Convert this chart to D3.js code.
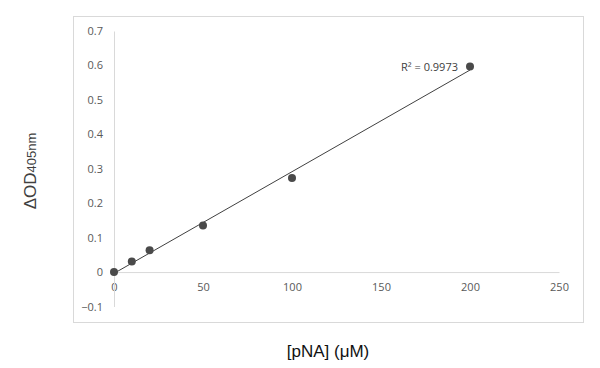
<!DOCTYPE html>
<html>
<head>
<meta charset="utf-8">
<script src="https://cdn.jsdelivr.net/npm/d3@7"></script>
<style>
  body { margin: 0; background: #fff; }
  text { font-family: "Open Sans", "DejaVu Sans", sans-serif; }
</style>
</head>
<body>
<svg id="chart" width="600" height="368"></svg>
<script>
// pNA standard curve
let conc = [0, 10, 20, 50, 100, 200]
let od = [0, 0.031, 0.063, 0.135, 0.273, 0.597]
let xTicks = [0, 50, 100, 150, 200, 250]
let yTicks = [-0.1, 0, 0.1, 0.2, 0.3, 0.4, 0.5, 0.6, 0.7]
let r2Label = 'R² = 0.9973'

let svg = d3.select('#chart')

// chart area frame
svg.append('rect')
  .attr('x', 73.5).attr('y', 16.5)
  .attr('width', 510).attr('height', 306)
  .style('fill', 'none').style('stroke', '#d9d9d9')

let xScale = d3.scaleLinear().domain([0, 250]).range([114, 559])
let yScale = d3.scaleLinear().domain([-0.1, 0.7]).range([306.5, 31])

// x axis sits on y = 0
let xAxis = svg.append('g')
  .attr('transform', `translate(0, ${yScale(0)})`)
  .call(d3.axisBottom(xScale).tickValues(xTicks).tickSize(0).tickPadding(11))
xAxis.select('.domain').style('stroke', '#d9d9d9')
xAxis.selectAll('text').style('fill', '#595959').style('font-size', '11px')

let yAxis = svg.append('g')
  .attr('transform', `translate(${xScale(0)}, 0)`)
  .call(d3.axisLeft(yScale).tickValues(yTicks).tickSize(0).tickPadding(11)
    .tickFormat(d => d3.format('.1~f')(d)))
yAxis.select('.domain').style('stroke', '#d9d9d9')
yAxis.selectAll('text').style('fill', '#595959').style('font-size', '11px')

// linear trend line (least squares)
let mx = d3.mean(conc), my = d3.mean(od)
let sxy = d3.sum(conc, (d, i) => (d - mx) * (od[i] - my))
let sxx = d3.sum(conc, d => (d - mx) * (d - mx))
let slope = sxy / sxx, icpt = my - slope * mx
let xMax = d3.max(conc)

svg.append('line')
  .attr('x1', xScale(0)).attr('y1', yScale(icpt))
  .attr('x2', xScale(xMax)).attr('y2', yScale(icpt + slope * xMax))
  .style('stroke', '#404040').style('stroke-width', 1)

svg.append('g')
  .selectAll('circle')
  .data(conc)
  .enter()
    .append('circle')
    .attr('cx', d => xScale(d))
    .attr('cy', (d, i) => yScale(od[i]))
    .attr('r', 4)
    .style('fill', '#4a4a4a')

svg.append('text')
  .attr('x', xScale(xMax) - 12).attr('y', yScale(0.585))
  .style('text-anchor', 'end')
  .style('font-size', '11px').style('fill', '#404040')
  .text(r2Label)

// axis titles
let yTitle = svg.append('text')
  .attr('transform', 'translate(36, 171) rotate(-90)')
  .style('text-anchor', 'middle')
  .style('fill', '#404040')
  .style('font-family', '"Liberation Sans", Arial, sans-serif')
yTitle.append('tspan').style('font-size', '17px').text('ΔOD')
yTitle.append('tspan').style('font-size', '13px').attr('dy', 0).text('405nm')

svg.append('text')
  .attr('x', 328).attr('y', 357)
  .style('text-anchor', 'middle')
  .style('font-size', '17px').style('fill', '#111')
  .style('font-family', '"Liberation Sans", Arial, sans-serif')
  .text('[pNA] (μM)')
</script>
</body>
</html>
